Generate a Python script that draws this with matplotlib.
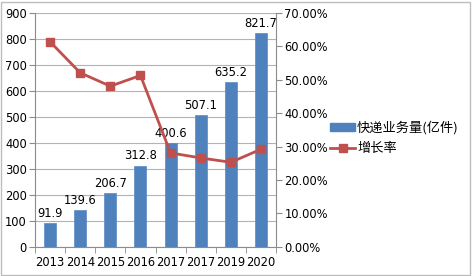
import matplotlib
matplotlib.use("Agg")
import matplotlib.pyplot as plt
from matplotlib.lines import Line2D
from matplotlib.patches import Patch, Rectangle
import numpy as np

plt.rcParams["font.family"] = ["DejaVu Sans", "Noto Sans CJK SC"]

# ---- data ----
years = ["2013", "2014", "2015", "2016", "2017", "2017", "2019", "2020"]
volume = [91.9, 139.6, 206.7, 312.8, 400.6, 507.1, 635.2, 821.7]
growth = [61.4, 52.1, 48.1, 51.3, 28.1, 26.6, 25.3, 29.2]   # percent

BAR = "#4f81bd"
LINE = "#c0504d"
GRID = "#b3b3b3"
AXC = "#8c8c8c"

fig = plt.figure(figsize=(4.72, 2.76), dpi=100)
fig.patches.append(Rectangle((0.002, 0.004), 0.994, 0.99, transform=fig.transFigure,
                             fill=False, edgecolor="#bdbdbd", lw=1.0))

ax = fig.add_axes([0.0742, 0.106, 0.5106, 0.8467])
x = np.arange(len(years))
ax.bar(x, volume, width=0.4, color=BAR, edgecolor="#5b8bc6", lw=0.5, zorder=2)
for xi, v in zip(x, volume):
    ax.text(xi, v + 12, f"{v:.1f}", ha="center", va="bottom", fontsize=8.3, zorder=4)

ax.set_xlim(-0.5, len(years) - 0.5)
ax.set_ylim(0, 900)
ax.set_yticks(np.arange(0, 901, 100))
ax.set_xticks(x)
ax.set_xticklabels(years, fontsize=8.3)
ax.set_xticks(np.arange(-0.5, len(years), 1), minor=True)
ax.tick_params(axis="x", which="major", length=0, pad=7)
ax.tick_params(axis="x", which="minor", length=4, color=AXC)
ax.tick_params(axis="y", labelsize=8.3, length=4, color=AXC, pad=2)
ax.yaxis.grid(True, color=GRID, lw=0.8, zorder=0)
ax.set_axisbelow(True)
for s in ["top", "right"]:
    ax.spines[s].set_visible(False)
for s in ["left", "bottom"]:
    ax.spines[s].set_color(AXC)

ax2 = ax.twinx()
ax2.plot(x, growth, color=LINE, lw=2, marker="s", ms=6, zorder=5)
ax2.set_ylim(0, 70)
ax2.set_yticks(np.arange(0, 71, 10))
ax2.set_yticklabels([f"{t:.2f}%" for t in np.arange(0, 71, 10)])
ax2.tick_params(axis="y", labelsize=8.3, length=4, color=AXC, pad=2)
for s in ["top", "left", "bottom"]:
    ax2.spines[s].set_visible(False)
ax2.spines["right"].set_color(AXC)

handles = [Patch(facecolor=BAR, edgecolor=BAR),
           Line2D([0], [0], color=LINE, lw=2, marker="s", ms=6)]
fig.legend(handles, ["快递业务量(亿件)", "增长率"], loc="center left",
           bbox_to_anchor=(0.674, 0.5), frameon=False, handlelength=1.9,
           handleheight=0.5, handletextpad=0.15, labelspacing=0.6,
           prop={"family": ["Noto Sans CJK SC", "DejaVu Sans"], "size": 9.5})

fig.savefig("out.png", dpi=100)
